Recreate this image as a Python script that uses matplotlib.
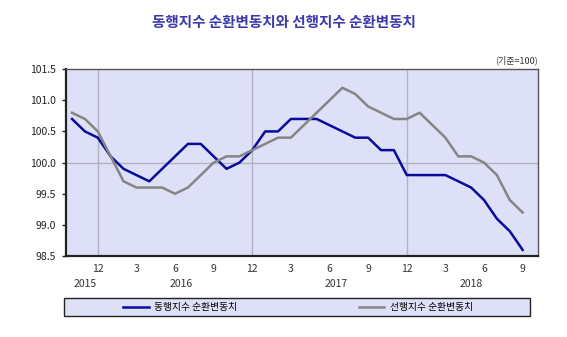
import numpy as np
import matplotlib
matplotlib.use("Agg")
import matplotlib.pyplot as plt
import matplotlib.transforms as mtransforms
from matplotlib.patches import Rectangle

plt.rcParams['font.family'] = ['Noto Sans CJK KR', 'DejaVu Sans']

# monthly data, 2015-10 .. 2018-09
months = [10, 11, 12] + list(range(1, 13)) * 2 + list(range(1, 10))
years = [2015] * 3 + [2016] * 12 + [2017] * 12 + [2018] * 9

coincident = [100.7, 100.5, 100.4, 100.1, 99.9, 99.8, 99.7, 99.9, 100.1, 100.3,
              100.3, 100.1, 99.9, 100.0, 100.2, 100.5, 100.5, 100.7, 100.7, 100.7,
              100.6, 100.5, 100.4, 100.4, 100.2, 100.2, 99.8, 99.8, 99.8, 99.8,
              99.7, 99.6, 99.4, 99.1, 98.9, 98.6]
leading = [100.8, 100.7, 100.5, 100.1, 99.7, 99.6, 99.6, 99.6, 99.5, 99.6,
           99.8, 100.0, 100.1, 100.1, 100.2, 100.3, 100.4, 100.4, 100.6, 100.8,
           101.0, 101.2, 101.1, 100.9, 100.8, 100.7, 100.7, 100.8, 100.6, 100.4,
           100.1, 100.1, 100.0, 99.8, 99.4, 99.2]

label_c = '동행지수 순환변동치'
label_l = '선행지수 순환변동치'
title = '동행지수 순환변동치와 선행지수 순환변동치'

x = np.arange(len(months))

fig = plt.figure(figsize=(5.67, 3.37), dpi=100)
ax = fig.add_axes([0.1164, 0.240, 0.8326, 0.555])
ax.set_facecolor('#dde0f6')

l1, = ax.plot(x, coincident, color='#0a0a9c', lw=1.8, label=label_c)
l2, = ax.plot(x, leading, color='#858585', lw=1.8, label=label_l)

ax.set_xlim(-0.47, 36.2)
ax.set_ylim(98.5, 101.5)
ax.set_yticks(np.arange(98.5, 101.51, 0.5))
ax.set_yticklabels([f'{v:.1f}' for v in np.arange(98.5, 101.51, 0.5)], fontsize=7.5)

tick_idx = [i for i in x if months[i] % 3 == 0]
ax.set_xticks(tick_idx)
ax.set_xticklabels([str(months[i]) for i in tick_idx], fontsize=7.5, color='#333333')
ax.tick_params(axis='x', length=0, pad=6)
ax.tick_params(axis='y', length=3, width=1, colors='#222222', pad=4)

# grid: only December lines and 100.0
for i in x:
    if months[i] == 12:
        ax.axvline(i, color='#b4b4c0', lw=1, zorder=0.5)
ax.axhline(100.0, color='#b4b4c0', lw=1, zorder=0.5)

for s in ['left', 'bottom']:
    ax.spines[s].set_linewidth(1.6)
    ax.spines[s].set_color('#222222')
for s in ['top', 'right']:
    ax.spines[s].set_linewidth(1)
    ax.spines[s].set_color('#555555')

# year labels centred under each year's months
trans = mtransforms.blended_transform_factory(ax.transData, ax.transAxes)
for yr in sorted(set(years)):
    idx = [i for i in x if years[i] == yr]
    ax.text((idx[0] + idx[-1]) / 2, -0.15, str(yr), transform=trans,
            ha='center', va='center', fontsize=7.5, color='#333333')

ax.text(1.0, 1.02, '(기준=100)', transform=ax.transAxes, ha='right', va='bottom',
        fontsize=6.5, color='#333333')

fig.text(0.5, 0.935, title, ha='center', va='center', fontsize=10.5,
         fontweight='bold', color='#3a3aaa')

# legend box
fig.patches.append(Rectangle((0.113, 0.062), 0.822, 0.054, transform=fig.transFigure,
                             facecolor='#dde0f6', edgecolor='#222222', lw=1))
fig.legend(handles=[l1, l2], loc='center', bbox_to_anchor=(0.526, 0.089),
           ncol=2, frameon=False, fontsize=7, handlelength=2.6,
           columnspacing=12.5, handletextpad=0.6)

fig.savefig('out.png', dpi=100)
